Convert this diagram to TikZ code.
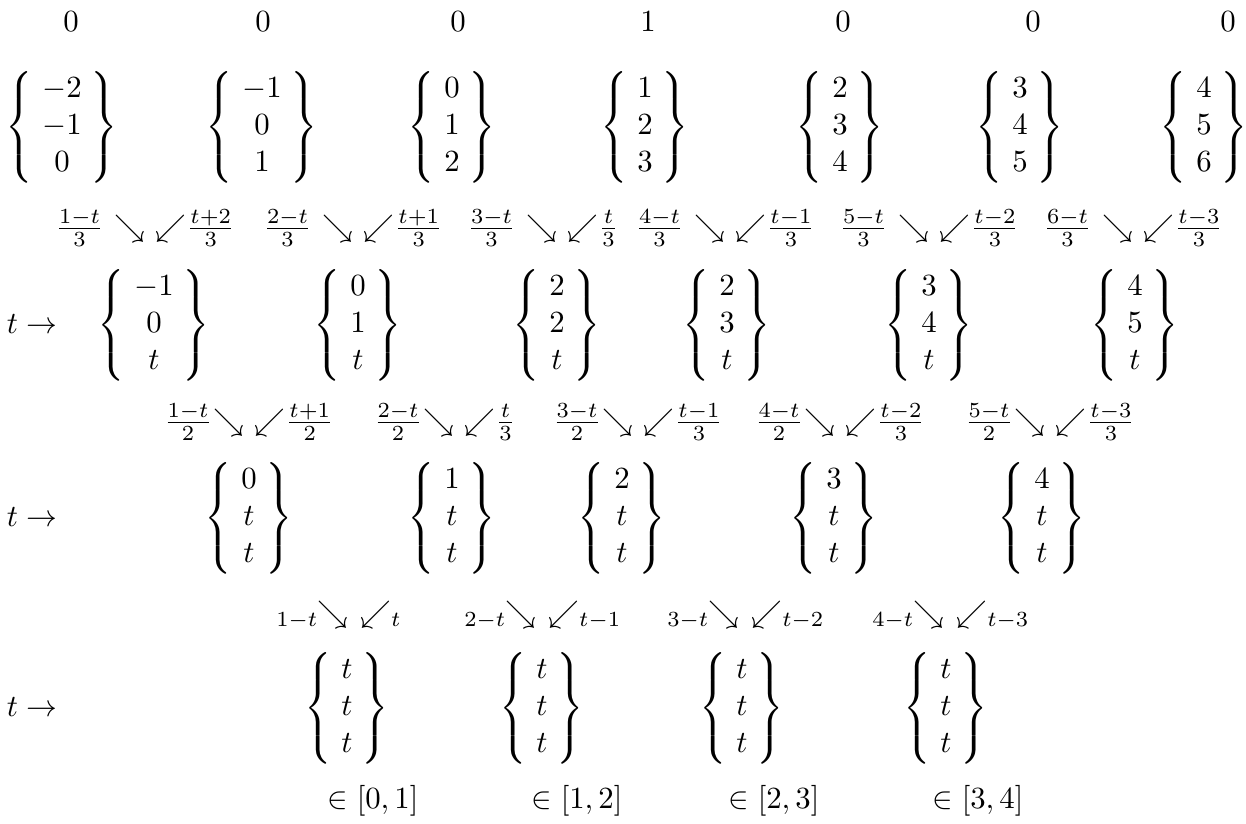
\documentclass[tikz,border=0pt]{standalone}
\usepackage{amsmath}
\newcommand{\colvec}[3]{$\setlength{\arraycolsep}{3pt}\left\{\begin{array}{c}#1\\#2\\#3\end{array}\right\}$}
\newcommand{\splitwide}[4]{$\llap{$\frac{#1}{#2}\kern0.6pt$}\searrow\ \swarrow\rlap{$\kern-2.5pt\frac{#3}{#4}$}$}
\newcommand{\splitnarrow}[4]{$\llap{$\frac{#1}{#2}\kern-2.5pt$}\searrow\ \swarrow\rlap{$\kern-2.5pt\frac{#3}{#4}$}$}
\newcommand{\splitsub}[2]{${}_{\llap{$\scriptstyle #1$\kern-3.2pt}}\searrow\kern4pt\swarrow_{\rlap{$\scriptstyle #2$}}$}
\begin{document}
\begin{tikzpicture}[x=0.3247pt, y=-0.3247pt, inner sep=0pt, outer sep=0pt, every node/.append style={anchor=base}]
  \useasboundingbox (0,0) rectangle (1246,823);

  % weights
  \node (w1) at (71,31) {$0$};
  \node (w2) at (263,31) {$0$};
  \node (w3) at (458,31) {$0$};
  \node (w4) at (648,31) {$1$};
  \node (w5) at (843,31) {$0$};
  \node (w6) at (1033,31) {$0$};
  \node (w7) at (1228,31) {$0$};

  % knots, level 0
  \node (knotA1) at (62,135) {\colvec{-2}{-1}{0}};
  \node (knotA2) at (262,135) {\colvec{-1}{0}{1}};
  \node (knotA3) at (452,135) {\colvec{0}{1}{2}};
  \node (knotA4) at (645,135) {\colvec{1}{2}{3}};
  \node (knotA5) at (840,135) {\colvec{2}{3}{4}};
  \node (knotA6) at (1020,135) {\colvec{3}{4}{5}};
  \node (knotA7) at (1204,135) {\colvec{4}{5}{6}};

  % blends, level 1
  \node (mixA1) at (150,236) {\splitwide{1-t}{3}{t+2}{3}};
  \node (mixA2) at (358,236) {\splitwide{2-t}{3}{t+1}{3}};
  \node (mixA3) at (562,236) {\splitwide{3-t}{3}{t}{3}};
  \node (mixA4) at (730,236) {\splitwide{4-t}{3}{t-1}{3}};
  \node (mixA5) at (934,236) {\splitwide{5-t}{3}{t-2}{3}};
  \node (mixA6) at (1138,236) {\splitwide{6-t}{3}{t-3}{3}};

  % knots, level 1
  \node[anchor=base west] (stepB) at (7,333) {$t\to$};
  \node (knotB1) at (154,333) {\colvec{-1}{0}{t}};
  \node (knotB2) at (358,333) {\colvec{0}{1}{t}};
  \node (knotB3) at (557,333) {\colvec{2}{2}{t}};
  \node (knotB4) at (727,333) {\colvec{2}{3}{t}};
  \node (knotB5) at (929,333) {\colvec{3}{4}{t}};
  \node (knotB6) at (1135,333) {\colvec{4}{5}{t}};

  % blends, level 2
  \node (mixB1) at (249,430) {\splitnarrow{1-t}{2}{t+1}{2}};
  \node (mixB2) at (459,430) {\splitnarrow{2-t}{2}{t}{3}};
  \node (mixB3) at (638,430) {\splitnarrow{3-t}{2}{t-1}{3}};
  \node (mixB4) at (840,430) {\splitnarrow{4-t}{2}{t-2}{3}};
  \node (mixB5) at (1050,430) {\splitnarrow{5-t}{2}{t-3}{3}};

  % knots, level 2
  \node[anchor=base west] (stepC) at (7,526) {$t\to$};
  \node (knotC1) at (249,526) {\colvec{0}{t}{t}};
  \node (knotC2) at (452,526) {\colvec{1}{t}{t}};
  \node (knotC3) at (622,526) {\colvec{2}{t}{t}};
  \node (knotC4) at (834,526) {\colvec{3}{t}{t}};
  \node (knotC5) at (1042,526) {\colvec{4}{t}{t}};

  % blends, level 3
  \node (mixC1) at (350,622) {\splitsub{1-t}{t}};
  \node (mixC2) at (538,622) {\splitsub{2-t}{t-1}};
  \node (mixC3) at (741,622) {\splitsub{3-t}{t-2}};
  \node (mixC4) at (946,622) {\splitsub{4-t}{t-3}};

  % knots, level 3
  \node[anchor=base west] (stepD) at (7,716) {$t\to$};
  \node (knotD1) at (347,716) {\colvec{t}{t}{t}};
  \node (knotD2) at (542,716) {\colvec{t}{t}{t}};
  \node (knotD3) at (742,716) {\colvec{t}{t}{t}};
  \node (knotD4) at (946,716) {\colvec{t}{t}{t}};

  % intervals
  \node (span1) at (373,808) {$\in[0,1]$};
  \node (span2) at (577,808) {$\in[1,2]$};
  \node (span3) at (774,808) {$\in[2,3]$};
  \node (span4) at (978,808) {$\in[3,4]$};

\end{tikzpicture}
\end{document}
